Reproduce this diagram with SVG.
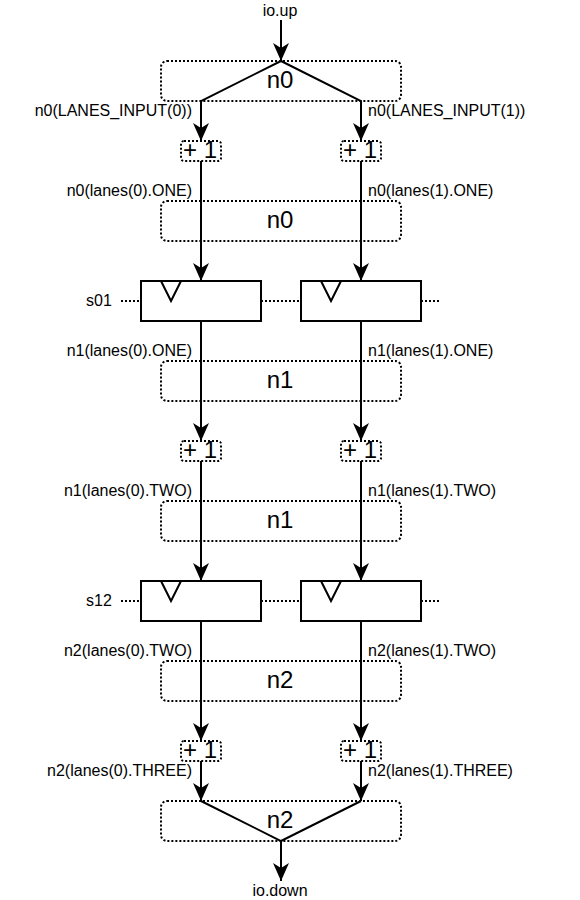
<svg xmlns="http://www.w3.org/2000/svg" width="580" height="900" viewBox="0 0 580 900">
<style>
text{font-family:"Liberation Sans",Arial,sans-serif;fill:#000}
.l{font-size:16px}.e{text-anchor:end}.m{text-anchor:middle}
.b{font-size:24px;text-anchor:middle}
.d{fill:none;stroke:#000;stroke-width:2;stroke-dasharray:2 2}
.c{fill:none;stroke:#000;stroke-width:2}
.r{fill:#fff;stroke:#000;stroke-width:2}
</style>
<defs>
<marker id="a" markerUnits="userSpaceOnUse" markerWidth="20" markerHeight="20" viewBox="0 0 20 20" refX="18" refY="10" orient="auto">
<path d="M18 10L0 2L5 10L0 18Z" fill="#000"/>
</marker>
</defs>
<g id="stages">
<g id="n0a"><rect class="d" x="161" y="61" width="240" height="40" rx="6"/><text class="b" x="280" y="88">n0</text></g>
<g id="n0b"><rect class="d" x="161" y="201" width="240" height="40" rx="6"/><text class="b" x="280" y="228">n0</text></g>
<g id="n1a"><rect class="d" x="161" y="361" width="240" height="40" rx="6"/><text class="b" x="280" y="388">n1</text></g>
<g id="n1b"><rect class="d" x="161" y="501" width="240" height="40" rx="6"/><text class="b" x="280" y="528">n1</text></g>
<g id="n2a"><rect class="d" x="161" y="661" width="240" height="40" rx="6"/><text class="b" x="280" y="688">n2</text></g>
<g id="n2b"><rect class="d" x="161" y="801" width="240" height="40" rx="6"/><text class="b" x="280" y="828">n2</text></g>
</g>
<g id="connectors">
<path class="c" d="M281 20L281 61" marker-end="url(#a)"/>
<path class="c" d="M281 61L201 101L201 141" marker-end="url(#a)"/>
<path class="c" d="M281 61L361 101L361 141" marker-end="url(#a)"/>
<path class="c" d="M201 161V281" marker-end="url(#a)"/>
<path class="c" d="M361 161V281" marker-end="url(#a)"/>
<path class="c" d="M201 321V441" marker-end="url(#a)"/>
<path class="c" d="M361 321V441" marker-end="url(#a)"/>
<path class="c" d="M201 461V581" marker-end="url(#a)"/>
<path class="c" d="M361 461V581" marker-end="url(#a)"/>
<path class="c" d="M201 621V741" marker-end="url(#a)"/>
<path class="c" d="M361 621V741" marker-end="url(#a)"/>
<path class="c" d="M201 761V801" marker-end="url(#a)"/>
<path class="c" d="M361 761V801" marker-end="url(#a)"/>
<path class="c" d="M201 801L281 841L281 881" marker-end="url(#a)"/>
<path class="c" d="M361 801L281 841"/>
<path class="d" d="M121 301H141M261 301H301M421 301H441M121 601H141M261 601H301M421 601H441"/>
</g>
<g id="inc-0-0"><rect class="d" x="181" y="141" width="40" height="20" rx="3" fill="#fff"/><text class="b" x="200" y="158">+ 1</text></g>
<g id="inc-0-1"><rect class="d" x="341" y="141" width="40" height="20" rx="3"/><text class="b" x="360" y="158">+ 1</text></g>
<g id="inc-1-0"><rect class="d" x="181" y="441" width="40" height="20" rx="3"/><text class="b" x="200" y="458">+ 1</text></g>
<g id="inc-1-1"><rect class="d" x="341" y="441" width="40" height="20" rx="3"/><text class="b" x="360" y="458">+ 1</text></g>
<g id="inc-2-0"><rect class="d" x="181" y="741" width="40" height="20" rx="3"/><text class="b" x="200" y="758">+ 1</text></g>
<g id="inc-2-1"><rect class="d" x="341" y="741" width="40" height="20" rx="3"/><text class="b" x="360" y="758">+ 1</text></g>
<g id="s01-0"><rect class="r" x="141" y="281" width="120" height="40"/><path class="c" d="M161 281L171 301L181 281"/></g>
<g id="s01-1"><rect class="r" x="301" y="281" width="120" height="40"/><path class="c" d="M321 281L331 301L341 281"/></g>
<g id="s12-0"><rect class="r" x="141" y="581" width="120" height="40"/><path class="c" d="M161 581L171 601L181 581"/></g>
<g id="s12-1"><rect class="r" x="301" y="581" width="120" height="40"/><path class="c" d="M321 581L331 601L341 581"/></g>
<g id="labels">
<text class="l m" x="280" y="16">io.up</text>
<text class="l m" x="280" y="896">io.down</text>
<text class="l m" x="99" y="306">s01</text>
<text class="l m" x="99" y="606">s12</text>
<text class="l e" x="192" y="116">n0(LANES_INPUT(0))</text>
<text class="l" x="368" y="116">n0(LANES_INPUT(1))</text>
<text class="l e" x="192" y="196">n0(lanes(0).ONE)</text>
<text class="l" x="368" y="196">n0(lanes(1).ONE)</text>
<text class="l e" x="192" y="356">n1(lanes(0).ONE)</text>
<text class="l" x="368" y="356">n1(lanes(1).ONE)</text>
<text class="l e" x="192" y="496">n1(lanes(0).TWO)</text>
<text class="l" x="368" y="496">n1(lanes(1).TWO)</text>
<text class="l e" x="192" y="656">n2(lanes(0).TWO)</text>
<text class="l" x="368" y="656">n2(lanes(1).TWO)</text>
<text class="l e" x="192" y="776">n2(lanes(0).THREE)</text>
<text class="l" x="368" y="776">n2(lanes(1).THREE)</text>
</g>
</svg>
